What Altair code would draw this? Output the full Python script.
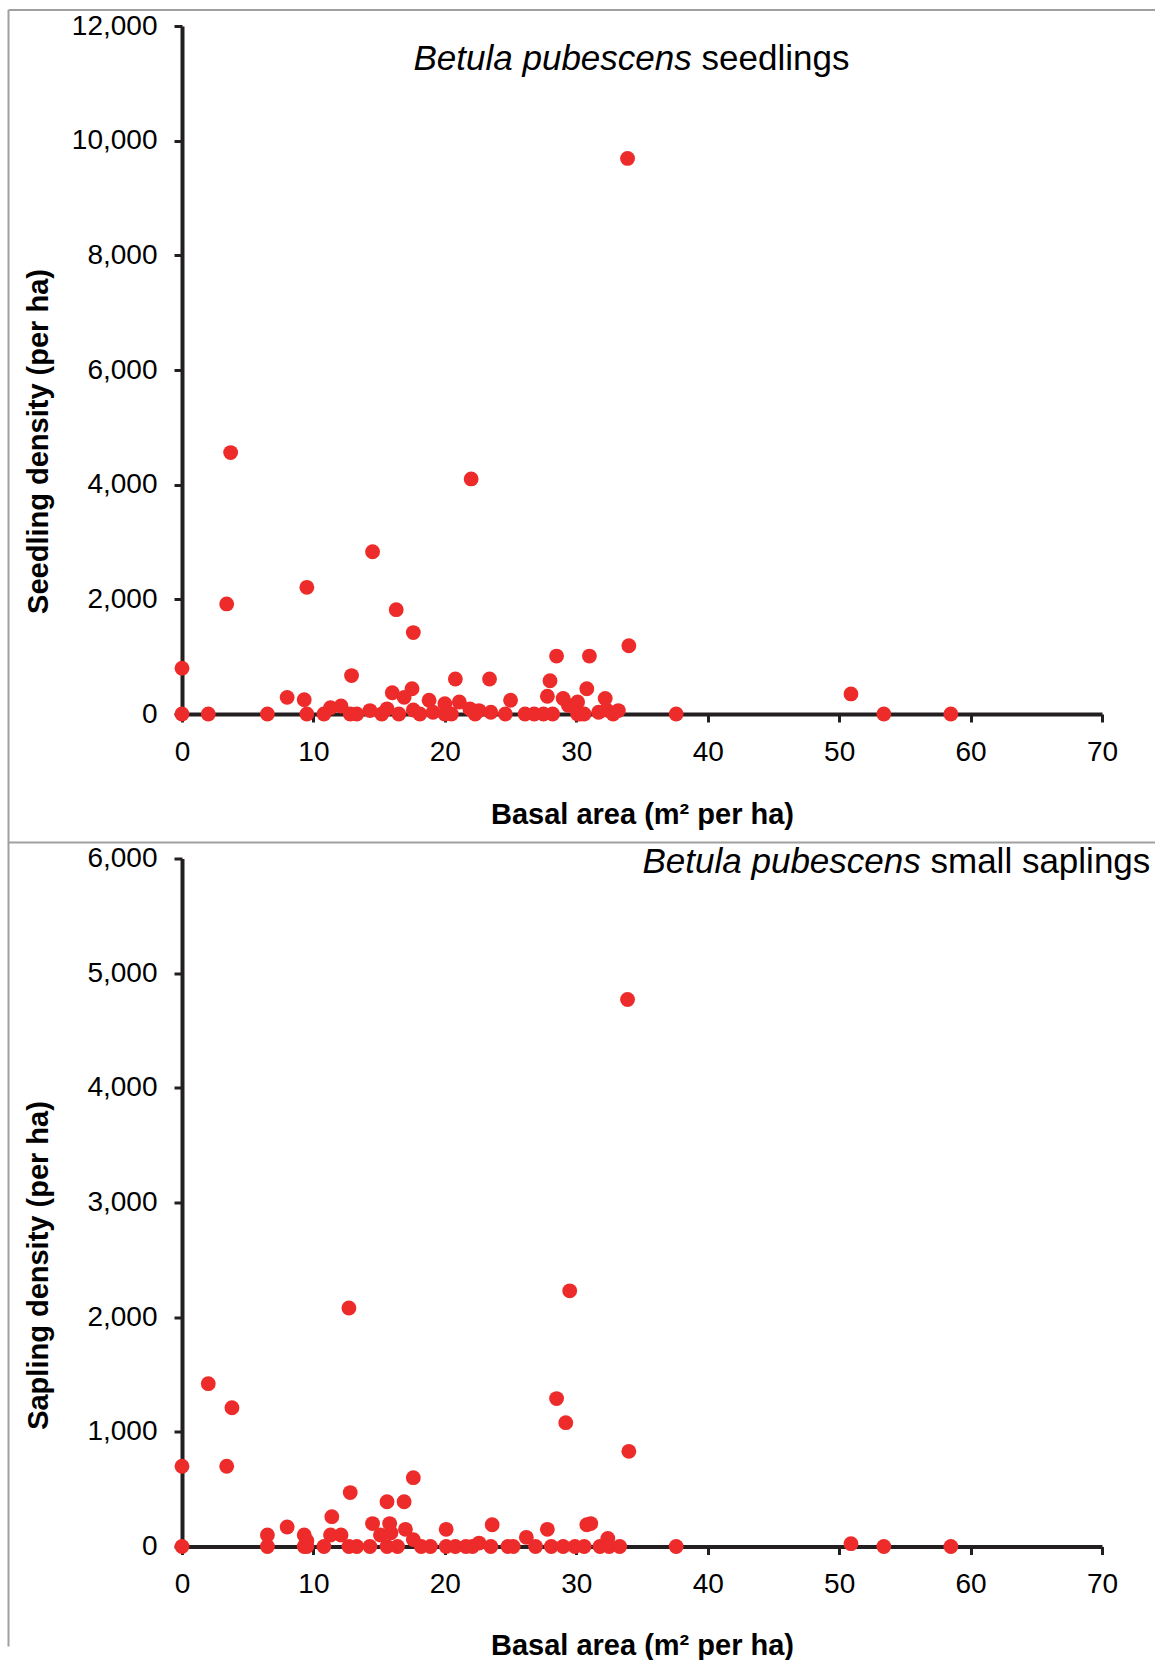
import altair as alt
import pandas as pd

# ---- data: top panel (seedlings) ----
seed_basal = [0, 0, 2.0, 3.4, 3.7, 6.5, 8.0, 9.3, 9.5, 9.5,
              10.8, 11.3, 12.1, 12.8, 12.9, 13.3, 14.3, 14.5, 15.6, 16.0,
              16.3, 16.9, 17.5, 17.6, 17.6, 18.1, 18.8, 19.1, 20.0, 20.0,
              20.8, 21.1, 21.9, 22.0, 22.6, 23.4, 23.5, 24.6, 25.0, 26.1,
              26.8, 27.8, 28.0, 28.2, 28.5, 29.0, 29.4, 30.1, 30.1, 30.6,
              30.8, 31.0, 31.7, 32.2, 32.3, 33.2, 33.9, 34.0, 37.6, 50.9,
              53.4, 58.5, 15.2, 16.5, 20.5, 22.3, 27.5, 30.3, 32.8]
seed_density = [800, 0, 0, 1920, 4560, 0, 290, 250, 2210, 0,
                0, 110, 140, 0, 670, 0, 60, 2830, 90, 370,
                1820, 290, 440, 1420, 70, 0, 240, 30, 180, 0,
                610, 210, 90, 4100, 60, 610, 30, 0, 240, 0,
                0, 310, 580, 0, 1010, 270, 150, 210, 0, 0,
                440, 1010, 30, 270, 70, 60, 9690, 1190, 0, 350,
                0, 0, 0, 0, 0, 0, 0, 0, 0]

# ---- data: bottom panel (small saplings) ----
sap_basal = [0, 0, 2.0, 3.4, 3.8, 6.5, 6.5, 8.0, 9.3, 9.5,
             9.3, 9.5, 10.8, 11.3, 11.4, 12.1, 12.7, 12.8, 12.7, 13.3,
             14.3, 14.5, 15.1, 15.6, 15.8, 15.9, 15.6, 16.4, 16.9, 17.0,
             17.6, 17.6, 18.2, 18.9, 20.1, 20.1, 20.8, 21.6, 22.1, 22.6,
             23.5, 23.6, 24.8, 25.2, 26.2, 26.9, 27.8, 28.1, 28.5, 29.0,
             29.2, 29.5, 29.9, 30.6, 30.8, 31.1, 31.8, 32.4, 32.5, 33.3,
             33.9, 34.0, 37.6, 50.9, 53.4, 58.5]
sap_density = [700, 0, 1420, 700, 1210, 100, 0, 170, 100, 50,
               0, 0, 0, 100, 260, 100, 2080, 470, 0, 0,
               0, 200, 100, 390, 200, 120, 0, 0, 390, 150,
               600, 60, 0, 0, 150, 0, 0, 0, 0, 30,
               0, 190, 0, 0, 80, 0, 150, 0, 1290, 0,
               1080, 2230, 0, 0, 190, 200, 0, 70, 0, 0,
               4770, 830, 0, 25, 0, 0]

x_ticks = [0, 10, 20, 30, 40, 50, 60, 70]
seed_ticks = [0, 2000, 4000, 6000, 8000, 10000, 12000]
sap_ticks = [0, 1000, 2000, 3000, 4000, 5000, 6000]

x_title = "Basal area (m² per ha)"
FONT = "Liberation Sans"
AX = "#231F20"
RED = "#ED2B2A"
FRAME = "#A0A0A0"
W, H = 920, 688

one = pd.DataFrame({"k": [0]})


def panel(basal, dens, yticks, ymax, ytitle, ytitle_y, xtitle_y, ital_x, norm_x, norm_text,
          title_base, frame_top, frame_bottom):
    df = pd.DataFrame({"basal": basal, "dens": dens})
    pts = alt.Chart(df).mark_circle(size=220, color=RED, opacity=1).encode(
        x=alt.X("basal:Q",
                scale=alt.Scale(domain=[0, 70], nice=False),
                axis=alt.Axis(values=x_ticks, grid=False, tickSize=8, tickWidth=3,
                              tickColor=AX, domainColor=AX, domainWidth=4,
                              labelFontSize=28, labelFont=FONT, labelColor="black",
                              labelPadding=16, labelFlush=False,
                              title=x_title, titleFont=FONT, titleFontSize=29,
                              titleFontWeight="bold", titleColor="black",
                              titleY=xtitle_y, titleBaseline="middle")),
        y=alt.Y("dens:Q",
                scale=alt.Scale(domain=[0, ymax], nice=False),
                axis=alt.Axis(values=yticks, format=",d", grid=False, tickSize=8, tickWidth=3,
                              tickColor=AX, domainColor=AX, domainWidth=4,
                              labelFontSize=28, labelFont=FONT, labelColor="black",
                              labelPadding=17, labelFlush=False,
                              title=ytitle, titleFont=FONT, titleFontSize=29,
                              titleFontWeight="bold", titleColor="black",
                              titleX=-144, titleY=ytitle_y, titleBaseline="middle",
                              titleAlign="center")),
    )
    hline = alt.Chart(one).mark_rule(color=FRAME, strokeWidth=2).encode(
        x=alt.value(-173.5), x2=alt.value(973), y=alt.value(frame_top))
    vline = alt.Chart(one).mark_rule(color=FRAME, strokeWidth=2).encode(
        x=alt.value(-173.5), y=alt.value(frame_top), y2=alt.value(frame_bottom))
    t1 = alt.Chart(one).mark_text(text="Betula pubescens", fontStyle="italic", fontSize=35,
                                  font=FONT, align="left", baseline="alphabetic",
                                  color="black").encode(x=alt.value(ital_x), y=alt.value(title_base))
    t2 = alt.Chart(one).mark_text(text=norm_text, fontSize=35, font=FONT, align="left",
                                  baseline="alphabetic", color="black").encode(
        x=alt.value(norm_x), y=alt.value(title_base))
    return alt.layer(hline, vline, pts, t1, t2).properties(width=W, height=H)


top = panel(seed_basal, seed_density, seed_ticks, 12000, "Seedling density (per ha)", 415, 100.5,
            231.5, 519.5, "seedlings", 44, -16, 817)
bottom = panel(sap_basal, sap_density, sap_ticks, 6000, "Sapling density (per ha)", 406.5, 98.5,
               460.5, 748.5, "small saplings", 14, -16, 788)

chart = alt.vconcat(top, bottom, spacing=144.5).properties(
    bounds="flush",
    padding={"left": 7, "top": 9, "right": 0, "bottom": 0},
    background="white",
).configure(font=FONT).configure_view(stroke="transparent", strokeWidth=0)

chart.save("out.html", embed_options={"renderer": "svg", "actions": False})
